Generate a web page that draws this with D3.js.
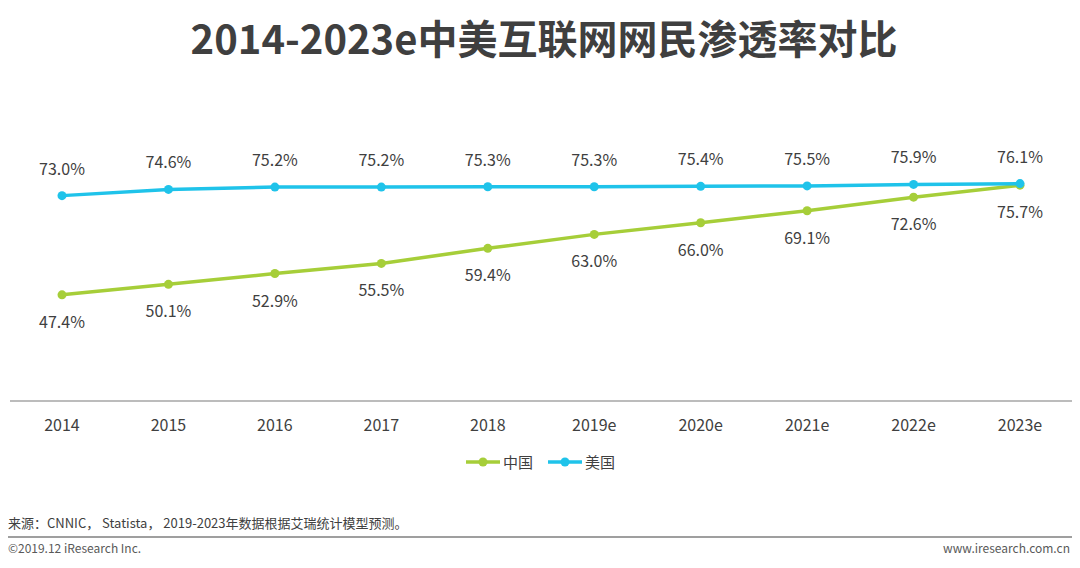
<!DOCTYPE html>
<html><head><meta charset="utf-8">
<script src="https://cdn.jsdelivr.net/npm/d3@7"></script>
<style>body{margin:0;background:#fff}text{font-family:"Noto Sans CJK SC","Noto Sans",sans-serif}</style>
</head><body><svg id="c" width="1080" height="568"></svg>
<script>
const years = ['2014','2015','2016','2017','2018','2019e','2020e','2021e','2022e','2023e']
const china = [47.4,50.1,52.9,55.5,59.4,63.0,66.0,69.1,72.6,75.7]
const usa = [73.0,74.6,75.2,75.2,75.3,75.3,75.4,75.5,75.9,76.1]

const svg = d3.select('#c')
const x = d3.scalePoint().domain(years).range([62,1020])
const y = d3.scaleLinear().domain([20,100]).range([401,91])

svg.append('text').attr('x',544).attr('y',54).attr('text-anchor','middle')
  .attr('font-size',40).attr('font-weight','bold').attr('fill','#3f3f3f')
  .text('2014-2023e中美互联网网民渗透率对比')

svg.append('line').attr('x1',10).attr('x2',1072).attr('y1',401).attr('y2',401)
  .attr('stroke','#a6a6a6').attr('stroke-width',1.5)

svg.selectAll('.xl').data(years).join('text').attr('x',d=>x(d)).attr('y',431)
  .attr('text-anchor','middle').attr('font-size',16).attr('fill','#404040').text(d=>d)

const series = [
  {name:'中国', vals:china, color:'#a6ce39', dy:27},
  {name:'美国', vals:usa, color:'#1fc3ea', dy:-27}
]
const line = d3.line().x((d,i)=>x(years[i])).y(d=>y(d))
series.forEach(s=>{
  svg.append('path').attr('d',line(s.vals)).attr('fill','none')
    .attr('stroke',s.color).attr('stroke-width',3.5)
  svg.selectAll(null).data(s.vals).join('circle').attr('cx',(d,i)=>x(years[i]))
    .attr('cy',d=>y(d)).attr('r',4.5).attr('fill',s.color)
  svg.selectAll(null).data(s.vals).join('text').attr('x',(d,i)=>x(years[i]))
    .attr('y',d=>y(d)+s.dy+6).attr('text-anchor','middle')
    .attr('font-size',16).attr('fill','#404040').text(d=>d.toFixed(1)+'%')
})

const lg = svg.append('g')
series.forEach((s,i)=>{
  const lx = 466 + i*82
  lg.append('line').attr('x1',lx).attr('x2',lx+34).attr('y1',462).attr('y2',462)
    .attr('stroke',s.color).attr('stroke-width',3.5)
  lg.append('circle').attr('cx',lx+17).attr('cy',462).attr('r',4.5).attr('fill',s.color)
  lg.append('text').attr('x',lx+37).attr('y',468).attr('font-size',15).attr('fill','#404040').text(s.name)
})

svg.append('text').attr('x',8).attr('y',528).attr('font-size',13).attr('fill','#404040')
  .text('来源：CNNIC， Statista， 2019-2023年数据根据艾瑞统计模型预测。')
svg.append('line').attr('x1',8).attr('x2',1072).attr('y1',537).attr('y2',537)
  .attr('stroke','#7f7f7f').attr('stroke-width',1.5)
svg.append('text').attr('x',8).attr('y',553).attr('font-size',12).attr('fill','#595959')
  .text('©2019.12 iResearch Inc.')
svg.append('text').attr('x',1070).attr('y',553).attr('text-anchor','end').attr('font-size',12).attr('fill','#595959')
  .text('www.iresearch.com.cn')
</script></body></html>
